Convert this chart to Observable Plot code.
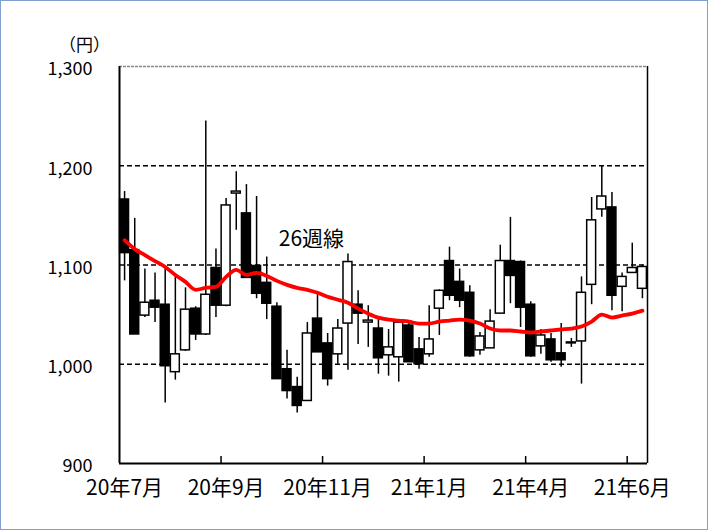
<!DOCTYPE html>
<html><head><meta charset="utf-8">
<script src="https://cdn.jsdelivr.net/npm/d3@7"></script>
<script src="https://cdn.jsdelivr.net/npm/@observablehq/plot@0.6"></script>
<style>
body{margin:0;background:#fff}
#wrap{position:relative;width:708px;height:530px;overflow:hidden}
#frame{position:absolute;left:0;top:0;width:706px;height:528px;border:1px solid #7f9fd0;pointer-events:none}
</style>
</head><body>
<div id="wrap"><div id="frame"></div></div>
<script>
// weekly candles (円)
const open  = [1166,1115,1049,1064,1060, 992,1014,1056,1030,1097,1059,1172,1152,1099,1082,1058, 995, 977, 963,1046,1021,1010,1041,1060,1042,1036,1009,1007,1039,1015,1010,1056,1104,1083,1072,1014,1016,1051,1104,1103,1060,1018,1025,1011,1021,1023,1080,1156,1158,1078,1092,1076];
const high  = [1174,1147,1096,1092,1099,1088,1077,1058,1245,1116,1167,1194,1181,1169,1108,1062,1014, 987,1042,1070,1031,1045,1111,1074,1059,1046,1035,1044,1042,1027,1059,1075,1118,1096,1079,1032,1055,1120,1148,1104,1063,1035,1031,1041,1026,1088,1168,1200,1173,1092,1122,1100];
const low   = [1084,1030,1047,1042, 961, 984,1013,1024,1029,1047,1058,1135,1087,1066,1045, 985, 965, 951, 963,1012, 978,1000, 994,1020,1017, 990, 988, 982,1002, 995,1007,1029,1064,1057,1007,1009,1016,1051,1061,1037,1007,1010,1002, 997,1017, 980,1060,1148,1054,1053,1092,1066];
const close = [1112,1030,1062,1057, 998,1010,1055,1030,1070,1059,1160,1174,1087,1071,1061, 985, 973, 958,1031,1012, 985,1036,1103,1051,1044,1006,1017,1042,1002,1000,1025,1074,1069,1064,1008,1028,1043,1104,1089,1057,1008,1029,1004,1004,1022,1072,1145,1169,1069,1088,1097,1098];
// 26-week moving average
const ma26  = [1125,1116,1110,1104,1098,1090,1083,1075,1077,1078,1088,1095,1090,1092,1089,1084,1080,1077,1075,1072,1068,1065,1062,1056,1051,1047,1045,1044,1043,1041,1041,1043,1044,1045,1044,1041,1036,1034,1034,1033,1032,1033,1034,1035,1036,1038,1043,1050,1047,1049,1051,1054];
// axis
const labelIdx  = [0,10,20,30,40,50];
const labelText = ["20年7月","20年9月","20年11月","21年1月","21年4月","21年6月"];
const tickMarkIdx = [9.5,19.5,29.5,39.5,49.5];
const yTicks = [900,1000,1100,1200,1300];
const gridValues = [1000,1100,1200];
const maLabel = {text:"26週線", i:18.4, v:1126};
const unitLabel = "（円）";

const weeks = d3.range(open.length);
const data = weeks.map(i => ({i, o:open[i], h:high[i], l:low[i], c:close[i], ma:ma26[i]}));
const font = '"Noto Sans CJK JP","Noto Sans",sans-serif';

const chart = Plot.plot({
  width:708, height:530,
  marginLeft:119, marginRight:61, marginTop:66, marginBottom:67,
  style:{fontFamily:font, background:"white", color:"black", overflow:"visible"},
  x:{type:"linear", domain:[-0.5, open.length-0.5], label:null},
  y:{domain:[900,1300], label:null},
  marks:[
    Plot.ruleY(gridValues, {stroke:"black", strokeWidth:1.3, strokeDasharray:"5,3"}),
    Plot.ruleY([1300], {stroke:"#8a8a8a", strokeWidth:1.5, strokeDasharray:"3,1"}),
    Plot.ruleX(data, {x:"i", y1:"l", y2:"h", stroke:"black", strokeWidth:1.5}),
    Plot.rect(data, {x1:d=>d.i-0.44, x2:d=>d.i+0.44, y1:"o", y2:"c",
      fill:d=>d.c<d.o?"black":"white", stroke:"black", strokeWidth:1.5}),
    Plot.line(data, {x:"i", y:"ma", stroke:"#ff0000", strokeWidth:3.8, curve:"monotone-x"}),
    Plot.ruleX([-0.5], {stroke:"black", strokeWidth:2}),
    Plot.ruleX([open.length-0.5], {stroke:"black", strokeWidth:1.5}),
    Plot.ruleY([900], {stroke:"black", strokeWidth:2}),
    Plot.ruleX(tickMarkIdx, {stroke:"black", strokeWidth:1.5, insetTop:390}),
    Plot.axisY({ticks:yTicks, tickFormat:d3.format(","), tickSize:0, tickPadding:27, fontSize:18, dy:3, label:null}),
    Plot.axisX({ticks:labelIdx, tickFormat:d=>labelText[labelIdx.indexOf(d)], tickSize:0, tickPadding:17, fontSize:21, label:null}),
    Plot.text([maLabel], {x:"i", y:"v", text:"text", fontSize:21, fill:"black"}),
    Plot.text([unitLabel], {frameAnchor:"top-left", dx:-35, dy:-21, fontSize:17, fill:"black", textAnchor:"middle", lineAnchor:"middle"})
  ]
});
document.getElementById("wrap").prepend(chart);
</script>
</body></html>
